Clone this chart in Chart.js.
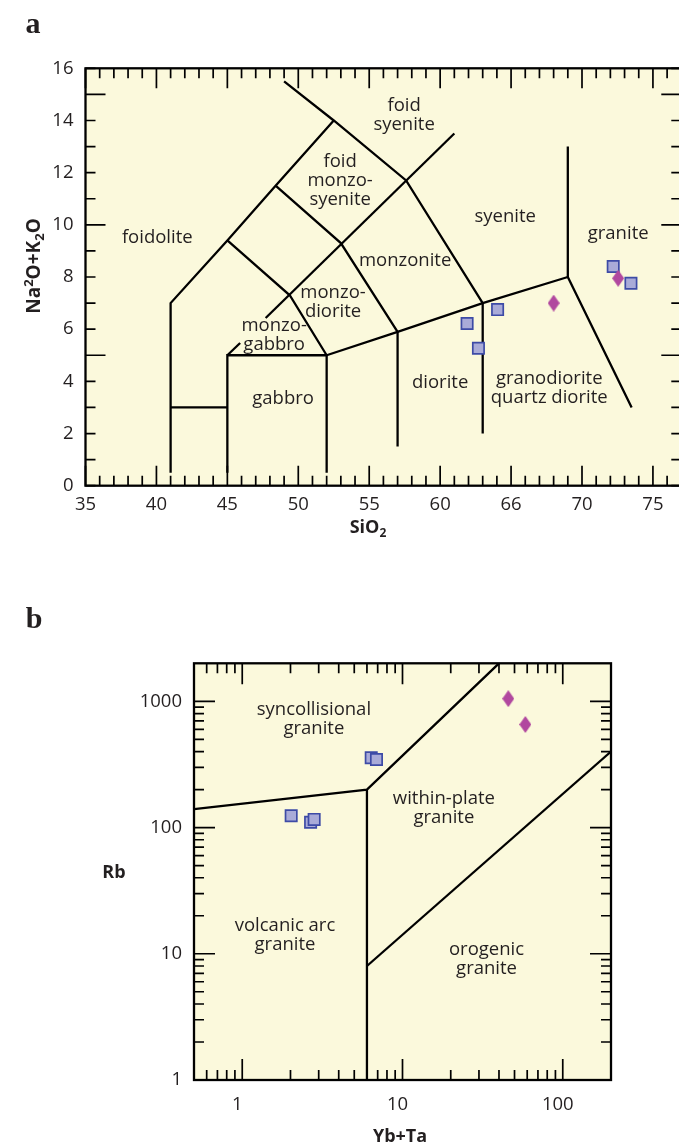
<!DOCTYPE html>
<html><head><meta charset="utf-8">
<script src="https://cdn.jsdelivr.net/npm/chart.js@4/dist/chart.umd.min.js"></script>
<style>
html,body{margin:0;padding:0;background:#fff;overflow:hidden;width:679px;height:1144px;}
#wrap{position:relative;width:679px;height:1144px;overflow:hidden;}
canvas{position:absolute;left:0;}
#ca{top:0}
#cb{top:560px}
</style></head><body><div id="wrap">
<canvas id="ca" width="700" height="560" style="width:700px;height:560px"></canvas>
<canvas id="cb" width="679" height="584" style="width:679px;height:584px"></canvas>
</div>
<script>
// ================= Panel a : TAS (SiO2 vs Na2O+K2O) =================
const tasSquareSiO2 = [72.2, 73.45, 64.05, 61.9, 62.7];
const tasSquareAlk  = [8.4, 7.76, 6.75, 6.22, 5.27];
const tasDiamondSiO2 = [72.55, 68.0];
const tasDiamondAlk  = [7.95, 7.0];
const tasXTickValues = [35, 40, 45, 50, 55, 60, 65, 70, 75];
const tasXTickLabels = ['35', '40', '45', '50', '55', '60', '66', '70', '75'];
const tasYTickValues = [0, 2, 4, 6, 8, 10, 12, 14, 16];
// field boundaries [SiO2, Na2O+K2O]
const tasLineFoidolite = [[41,0.5],[41,7],[45,9.4],[48.4,11.5],[52.5,14]];
const tasLineTop       = [[49,15.5],[52.5,14],[57.6,11.7],[63,7]];
const tasLineStep      = [[41,3],[45,3]];
const tasLineGabbro    = [[45,0.5],[45,5],[52,5],[52,0.5]];
const tasLineAlkA      = [[45,5],[45.9,5.47]];
const tasLineAlkB      = [[47.7,6.43],[61,13.5]];
const tasLineMonzodior = [[45,9.4],[49.4,7.3],[52,5]];
const tasLineMonzonite = [[48.4,11.5],[53,9.3],[57,5.9]];
const tasLineSubalk    = [[52,5],[57,5.9],[63,7],[69,8]];
const tasLineDiorite   = [[57,5.9],[57,1.5]];
const tasLineGranodio  = [[63,7],[63,2]];
const tasLineGranite   = [[69,13],[69,8],[73.5,3]];
const tasLines = [tasLineFoidolite, tasLineTop, tasLineStep, tasLineGabbro, tasLineAlkA, tasLineAlkB,
  tasLineMonzodior, tasLineMonzonite, tasLineSubalk, tasLineDiorite, tasLineGranodio, tasLineGranite];
const tasFieldText = [['foid','syenite'],['foid','monzo-','syenite'],['foidolite'],['syenite'],['granite'],
  ['monzonite'],['monzo-','diorite'],['monzo-','gabbro'],['gabbro'],['diorite'],['granodiorite','quartz diorite']];
const tasFieldSiO2 = [57.46, 52.95, 40.06, 64.59, 72.55, 57.53, 52.45, 48.3, 48.93, 60.0, 67.69];
const tasFieldAlk  = [14.21, 11.68, 9.52, 10.3, 9.64, 8.64, 7.02, 5.78, 3.35, 3.94, 3.75];

// ================= Panel b : Rb vs Yb+Ta =================
const rbSquareYbTa = [2.02, 2.67, 2.81, 6.38, 6.88];
const rbSquareRb   = [124, 110, 116, 357, 346];
const rbDiamondYbTa = [45.7, 58.4];
const rbDiamondRb   = [1050, 655];
const rbXTickValues = [1, 10, 100];
const rbYTickValues = [1, 10, 100, 1000];
const rbLineSynCol   = [[0.5,140],[6,200],[40,2000]];
const rbLineVertical = [[6,200],[6,1]];
const rbLineOrogenic = [[6,8],[200,400]];
const rbLines = [rbLineSynCol, rbLineVertical, rbLineOrogenic];
const rbFieldText = [['syncollisional','granite'],['within-plate','granite'],['volcanic arc','granite'],['orogenic','granite']];
const rbFieldYbTa = [2.8, 18.13, 1.848, 33.45];
const rbFieldRb   = [716, 142.2, 14.05, 9.03];

// ================= styling =================
const INK = '#231f20';
const BG = '#fbf9dc';
const FONT = '"Open Sans", "Noto Sans", "DejaVu Sans", sans-serif';
const SQ_FILL = '#a9abd8', SQ_EDGE = '#3d4ba6', DIA_FILL = '#b1489f';

function diamondImg(w, h, fill) {
  const c = document.createElement('canvas'); c.width = w; c.height = h;
  const g = c.getContext('2d'); g.fillStyle = fill;
  g.beginPath(); g.moveTo(w/2, 0); g.lineTo(w, h/2); g.lineTo(w/2, h); g.lineTo(0, h/2); g.closePath(); g.fill();
  return c;
}
const DIA = diamondImg(12, 17, DIA_FILL);

function pts(xs, ys) { return xs.map((x, i) => ({x: x, y: ys[i]})); }
function pairs(arr) { return arr.map(p => ({x: p[0], y: p[1]})); }
function lineSets(list) {
  return list.map(l => ({type: 'scatter', showLine: true, data: pairs(l), borderColor: '#000', borderWidth: 2.3,
    pointRadius: 0, fill: false, tension: 0, order: 5}));
}
function markerSets(sx, sy, dx, dy) {
  return [
    {type: 'scatter', data: pts(sx, sy), pointStyle: 'rect', pointRadius: 8, backgroundColor: SQ_FILL,
      borderColor: SQ_EDGE, borderWidth: 1.7, order: 1},
    {type: 'scatter', data: pts(dx, dy), pointStyle: DIA, pointRadius: 8, order: 0}
  ];
}

function drawRich(ctx, parts, cx, cy, size, rotate) {
  ctx.save();
  ctx.translate(cx, cy);
  if (rotate) ctx.rotate(-Math.PI / 2);
  const small = Math.round(size * 0.66);
  let w = 0;
  parts.forEach(p => { ctx.font = 'bold ' + (p.s ? small : size) + 'px ' + FONT; p.w = ctx.measureText(p.t).width; w += p.w; });
  let x = -w / 2;
  ctx.fillStyle = INK; ctx.textBaseline = 'alphabetic'; ctx.textAlign = 'left';
  const base = size * 0.36;
  parts.forEach(p => {
    ctx.font = 'bold ' + (p.s ? small : size) + 'px ' + FONT;
    const dy = p.s === 'sub' ? size * 0.22 : (p.s === 'sup' ? -size * 0.38 : 0);
    ctx.fillText(p.t, x, base + dy);
    x += p.w;
  });
  ctx.restore();
}

function framePlugin(cfg) {
  return {
    id: 'frame' + cfg.name,
    beforeDatasetsDraw(chart) {
      const {ctx, chartArea: a} = chart;
      ctx.save(); ctx.fillStyle = BG; ctx.fillRect(a.left, a.top, a.right - a.left, a.bottom - a.top); ctx.restore();
    },
    afterDatasetsDraw(chart) {
      const {ctx, chartArea: a, scales: {x, y}} = chart;
      ctx.save();
      ctx.strokeStyle = '#000'; ctx.lineWidth = 1.7; ctx.beginPath();
      cfg.xTicks.forEach(([v, len]) => {
        const px = x.getPixelForValue(v);
        ctx.moveTo(px, a.bottom); ctx.lineTo(px, a.bottom - len);
        ctx.moveTo(px, a.top); ctx.lineTo(px, a.top + len);
      });
      cfg.yTicks.forEach(([v, len]) => {
        const py = y.getPixelForValue(v);
        ctx.moveTo(a.left, py); ctx.lineTo(a.left + len, py);
        ctx.moveTo(a.right, py); ctx.lineTo(a.right - len, py);
      });
      ctx.stroke();
      ctx.lineWidth = 2.3; ctx.strokeRect(a.left, a.top, a.right - a.left, a.bottom - a.top);
      ctx.restore();
    },
    afterDraw(chart) {
      const {ctx, scales: {x, y}} = chart;
      ctx.save();
      ctx.fillStyle = INK; ctx.textAlign = 'center'; ctx.textBaseline = 'middle';
      ctx.font = '18.5px ' + FONT;
      const lh = 19;
      cfg.text.forEach((lines, i) => {
        const cx = x.getPixelForValue(cfg.tx[i]);
        const cy = y.getPixelForValue(cfg.ty[i]);
        const top = cy - (lines.length - 1) * lh / 2;
        lines.forEach((t, j) => ctx.fillText(t, cx, top + j * lh));
      });
      // panel letter
      ctx.font = 'bold 30px "Liberation Serif", "DejaVu Serif", serif';
      ctx.fillText(cfg.letter[0], cfg.letter[1], cfg.letter[2]);
      ctx.restore();
      cfg.titles.forEach(t => drawRich(ctx, t.parts, t.x, t.y, t.size, t.rot));
    }
  };
}

const tickFont = {family: FONT, size: 18.5};

// ---------- tick mark lists ----------
const aX = []; for (let v = 35; v <= 77; v++) aX.push([v, v % 5 === 0 ? 20 : 10]);
const aY = []; for (let v = 0; v <= 16; v++) aY.push([v, v % 5 === 0 && v > 0 ? 20 : 10]);
const bX = [[0.6,10],[0.7,10],[0.8,10],[0.9,10]];
[1, 10, 100].forEach(d => { bX.push([d, 21]); for (let k = 2; k <= 9; k++) if (d * k <= 200) bX.push([d * k, 10]); });
const bY = [];
[1, 10, 100, 1000].forEach(d => { if (d > 1) bY.push([d, 21]); for (let k = 2; k <= 9; k++) if (d * k < 2000) bY.push([d * k, 10]); });

// ---------- chart a ----------
new Chart(document.getElementById('ca'), {
  type: 'scatter',
  data: {datasets: markerSets(tasSquareSiO2, tasSquareAlk, tasDiamondSiO2, tasDiamondAlk).concat(lineSets(tasLines))},
  options: {
    responsive: false, animation: false, devicePixelRatio: 1,
    layout: {padding: {left: 0, top: 68.3, right: 18.7, bottom: 0}},
    plugins: {legend: {display: false}, tooltip: {enabled: false}},
    scales: {
      x: {type: 'linear', min: 35, max: 77,
        grid: {display: false, drawTicks: false}, border: {display: false},
        afterBuildTicks: s => { s.ticks = tasXTickValues.map(v => ({value: v})); },
        afterFit: s => { s.height = 74.3; },
        ticks: {autoSkip: false, maxRotation: 0, padding: 8, color: INK, font: tickFont,
          callback: (v, i) => tasXTickLabels[i]}},
      y: {type: 'linear', min: 0, max: 16,
        grid: {display: false, drawTicks: false}, border: {display: false},
        afterBuildTicks: s => { s.ticks = tasYTickValues.map(v => ({value: v})); },
        afterFit: s => { s.width = 85.5; },
        ticks: {autoSkip: false, padding: 12, color: INK, font: tickFont, callback: v => String(v)}}
    }
  },
  plugins: [framePlugin({name: 'a', xTicks: aX, yTicks: aY, text: tasFieldText, tx: tasFieldSiO2, ty: tasFieldAlk,
    letter: ['a', 33, 25],
    titles: [
      {parts: [{t: 'Na'}, {t: '2', s: 'sup'}, {t: 'O+K'}, {t: '2', s: 'sub'}, {t: 'O'}], x: 33, y: 266, size: 19, rot: true},
      {parts: [{t: 'SiO'}, {t: '2', s: 'sub'}], x: 368, y: 527, size: 18, rot: false}
    ]})]
});

// ---------- chart b ----------
new Chart(document.getElementById('cb'), {
  type: 'scatter',
  data: {datasets: markerSets(rbSquareYbTa, rbSquareRb, rbDiamondYbTa, rbDiamondRb).concat(lineSets(rbLines))},
  options: {
    responsive: false, animation: false, devicePixelRatio: 1,
    layout: {padding: {left: 0, top: 103.3, right: 68, bottom: 0}},
    plugins: {legend: {display: false}, tooltip: {enabled: false}},
    scales: {
      x: {type: 'logarithmic', min: 0.5, max: 200,
        grid: {display: false, drawTicks: false}, border: {display: false},
        afterBuildTicks: s => { s.ticks = rbXTickValues.map(v => ({value: v})); },
        afterFit: s => { s.height = 64; },
        ticks: {autoSkip: false, maxRotation: 0, padding: 14, labelOffset: -5, color: INK, font: tickFont,
          callback: v => String(v)}},
      y: {type: 'logarithmic', min: 1, max: 2000,
        grid: {display: false, drawTicks: false}, border: {display: false},
        afterBuildTicks: s => { s.ticks = rbYTickValues.map(v => ({value: v})); },
        afterFit: s => { s.width = 194; },
        ticks: {autoSkip: false, padding: 12, color: INK, font: tickFont, callback: v => String(v)}}
    }
  },
  plugins: [framePlugin({name: 'b', xTicks: bX, yTicks: bY, text: rbFieldText, tx: rbFieldYbTa, ty: rbFieldRb,
    letter: ['b', 34, 60],
    titles: [
      {parts: [{t: 'Rb'}], x: 114, y: 312, size: 18, rot: false},
      {parts: [{t: 'Yb+Ta'}], x: 400, y: 576, size: 18, rot: false}
    ]})]
});
</script></body></html>
